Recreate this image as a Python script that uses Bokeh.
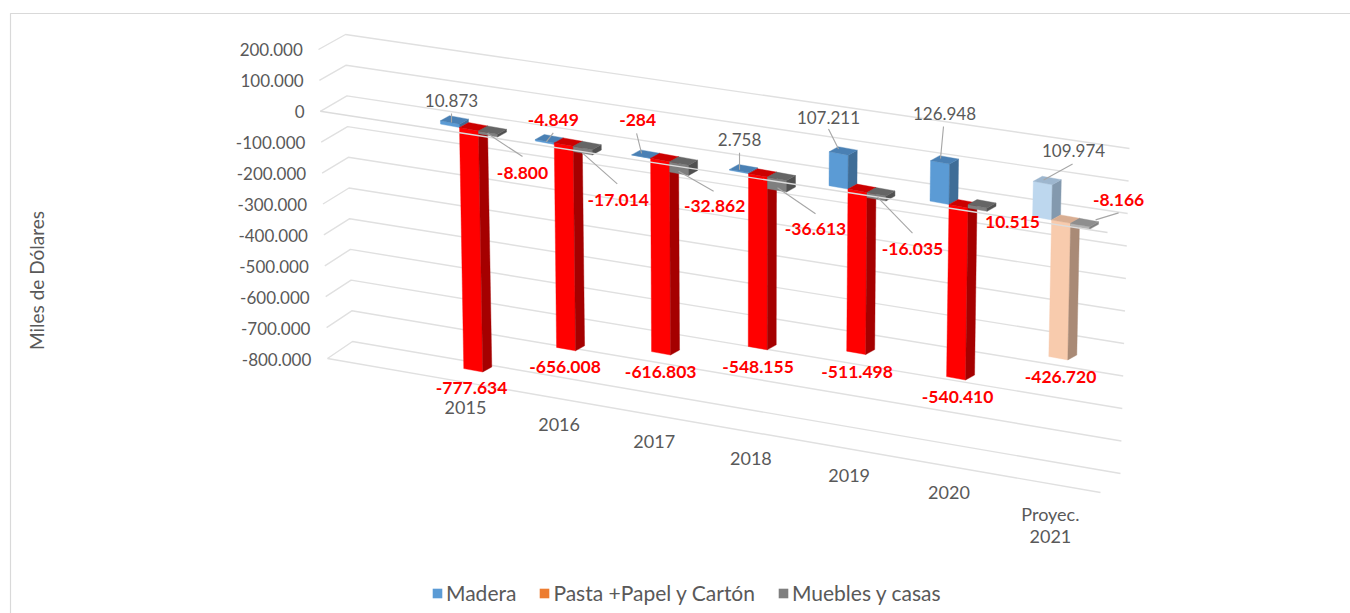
from bokeh.plotting import figure
from bokeh.models import Range1d, Legend, LegendItem, ColumnDataSource
from bokeh.core.properties import value
from bokeh.embed import file_html
from bokeh.resources import INLINE
import math

# ---------- data ----------
categories = ["2015", "2016", "2017", "2018", "2019", "2020", "Proyec.\n2021"]
madera = [10873, -4849, -284, 2758, 107211, 126948, 109974]
pasta = [-777634, -656008, -616803, -548155, -511498, -540410, -426720]
muebles = [-8800, -17014, -32862, -36613, -16035, 10515, -8166]
y_ticks = [200000, 100000, 0, -100000, -200000, -300000, -400000, -500000, -600000, -700000, -800000]
series_names = ["Madera", "Pasta +Papel y Cartón", "Muebles y casas"]
axis_title = "Miles de Dólares"

# ---------- styles ----------
FONT = "Lato"
GREY_TXT = "#595959"
GRID = "#E0E0E0"
LEADER = "#A6A6A6"
LEGEND_COLORS = ["#5B9BD5", "#ED7D31", "#7F7F7F"]
# (front, side, top) per series; solid years, then the lighter projected year
FACES = {
    "madera": ("#5B9BD5", "#3F6D97", "#4A80B4"),
    "pasta": ("#FF0000", "#A50000", "#CC0000"),
    "muebles": ("#7F7F7F", "#505050", "#656565"),
}
FACES_LIGHT = {
    "madera": ("#BDD7EE", "#8399AE", "#9DB6CE"),
    "pasta": ("#F8CBAD", "#A98A76", "#D9AE92"),
    "muebles": ("#B4B4B4", "#808080", "#8E8E8E"),
}

# ---------- projection of the 3-D scene onto the page ----------
BAR_W, DEPTH_X, DEPTH_Y, TILT = 19.0, 9.0, -5.0, 0.18
W, H = 1350, 613


def cat_x(i):
    return 459 + 94 * i + 0.78 * i * i


def cat_y(i):
    return 127 + 15.4 * i


def bar_pt(i, off, v, depth=0.0):
    t = v / 100000.0
    scale = 31 + 0.17 * i
    lean = 0.55 - 0.2 * i
    return (cat_x(i) + off - lean * t + depth * DEPTH_X,
            cat_y(i) + off * TILT - scale * t + depth * DEPTH_Y)


def back_left(t):
    return (346.4 - 0.7 * t, 95.4 - 30.7 * t)


def back_right(t):
    return (1127.2 + 0.9 * t, 213 - 32.5 * t)


def front_left(t):
    return (319.8 - 0.9 * t, 110.8 - 30.9 * t)


def front_right(t):
    return (1107 + 0.875 * t, 232 - 32.5 * t)


def fmt(v):
    return f"{v:,}".replace(",", ".")


p = figure(width=W, height=H, output_backend="svg", toolbar_location=None,
           x_range=Range1d(0, W), y_range=Range1d(H, 0),
           min_border=0, outline_line_color=None, background_fill_color="white",
           border_fill_color="white")
p.axis.visible = False
p.grid.visible = False

# chart frame
p.multi_line([[10, 10, W]], [[H, 13, 13]], line_color="#D9D9D9", line_width=1.2)

# walls and floor gridlines
gx, gy = [], []
for tick in y_ticks:
    t = tick / 100000.0
    pts = [front_left(t), back_left(t), back_right(t)]
    gx.append([a for a, _ in pts])
    gy.append([b for _, b in pts])
    if tick == min(y_ticks):
        a = [front_left(t), front_right(t)]
        gx.append([q for q, _ in a])
        gy.append([q for _, q in a])
p.multi_line(gx, gy, line_color=GRID, line_width=1.4)


# bars
def add_bar(faces, i, off, v, palette):
    front, side, top = palette
    hi, lo = max(v, 0), min(v, 0)
    a = [bar_pt(i, off, hi), bar_pt(i, off + BAR_W, hi), bar_pt(i, off + BAR_W, lo), bar_pt(i, off, lo)]
    b = [bar_pt(i, off + BAR_W, hi), bar_pt(i, off + BAR_W, hi, 1), bar_pt(i, off + BAR_W, lo, 1), bar_pt(i, off + BAR_W, lo)]
    c = [bar_pt(i, off, hi), bar_pt(i, off + BAR_W, hi), bar_pt(i, off + BAR_W, hi, 1), bar_pt(i, off, hi, 1)]
    for pts, col in ((a, front), (b, side), (c, top)):
        faces["x"].append([q[0] for q in pts])
        faces["y"].append([q[1] for q in pts])
        faces["c"].append(col)


faces = {"x": [], "y": [], "c": []}
for name, vals, off in (("madera", madera, -BAR_W), ("pasta", pasta, 0.0), ("muebles", muebles, BAR_W)):
    for i, v in enumerate(vals):
        pal = FACES_LIGHT[name] if i == len(vals) - 1 else FACES[name]
        add_bar(faces, i, off, v, pal)
p.patches("x", "y", fill_color="c", line_color="c", line_width=0.4, source=ColumnDataSource(faces))

# zero line of the front plane runs over the bars
z0, z1 = front_left(0), front_right(0)
p.line([z0[0], z1[0]], [z0[1], z1[1]], line_color="#DCDCDC", line_width=1.4)

# manual data-label layout, relative to each category's anchor
MADERA_LABEL = [(-8, -27), (-1, -23), (-13, -38), (-9, -34), (-19.5, -72), (-4.5, -91), (22, -69)]
MADERA_LEADER = [(-8, -14, -8, -5), (-1, -10, -8, -1), (-14, -25, -9, -5), (-9, -21, -9, -4),
                 (-19.5, -60, -9.5, -40), (-5.5, -78, -8.5, -46), (21, -56, -8, -40)]
MUEBLES_LABEL = [(63, 45), (64, 57), (64, 48), (67, 55), (64.5, 60), (63.5, 17), (67, -20)]
MUEBLES_LEADER = [(28, 6, 63, 29), (28, 10, 63, 41), (28, 13, 63, 33), (29, 14, 67, 40),
                  (29.5, 8, 64.5, 44), None, (44, 0, 67, -7)]

lx, ly = [], []
for leaders in (MADERA_LEADER, MUEBLES_LEADER):
    for i, l in enumerate(leaders):
        if l:
            lx.append([cat_x(i) + l[0], cat_x(i) + l[2]])
            ly.append([cat_y(i) + l[1], cat_y(i) + l[3]])
p.multi_line(lx, ly, line_color=LEADER, line_width=1.1)


def add_text(xs, ys, texts, color, size, style="normal", **kw):
    opts = dict(text_font=value(FONT), text_font_size=size, text_color=color, text_font_style=style,
                text_align="center", text_baseline="middle")
    opts.update(kw)
    p.text(xs, ys, text=texts, **opts)


SIZE = "17px"
BOLD_SIZE = "17.5px"
# Madera labels: grey when positive, bold red when negative
for i, v in enumerate(madera):
    neg = v < 0
    add_text([cat_x(i) + MADERA_LABEL[i][0]], [cat_y(i) + MADERA_LABEL[i][1]], [fmt(v)],
             "#FF0000" if neg else GREY_TXT, BOLD_SIZE if neg else SIZE, "bold" if neg else "normal")
# Pasta labels under their bars
bx, by = [], []
for i, v in enumerate(pasta):
    q = bar_pt(i, 7.8 + 0.65 * i, v)
    bx.append(q[0])
    by.append(q[1] + 18.5)
add_text(bx, by, [fmt(v) for v in pasta], "#FF0000", BOLD_SIZE, "bold")
# Muebles labels
add_text([cat_x(i) + MUEBLES_LABEL[i][0] for i in range(7)],
         [cat_y(i) + MUEBLES_LABEL[i][1] for i in range(7)],
         [fmt(v) for v in muebles], "#FF0000", BOLD_SIZE, "bold")

# value axis labels, following the slanted wall
add_text([304 - 0.85 * v / 100000.0 for v in y_ticks],
         [111 - 31 * v / 100000.0 for v in y_ticks],
         [fmt(v) for v in y_ticks], GREY_TXT, SIZE, text_align="right")

# category labels on the floor
add_text([cat_x(i) + 6 - 1.2 * i for i in range(7)],
         [cat_y(i) + 273 + 1.6 * i for i in range(7)],
         categories, GREY_TXT, "18px", text_baseline="top", text_line_height=1.0)

# axis title
add_text([36], [280], [axis_title], GREY_TXT, "19px", angle=math.pi / 2)

# legend (its own proxy renderers carry the swatch colours)
items = []
nan = float("nan")
for name, col in zip(series_names, LEGEND_COLORS):
    r = p.quad(left=[nan], right=[nan], top=[nan], bottom=[nan], fill_color=col, line_color=None)
    items.append(LegendItem(label=name, renderers=[r]))
legend = Legend(items=items, orientation="horizontal", location=(431, 8),
                background_fill_alpha=0, border_line_color=None, glyph_width=12, glyph_height=12,
                label_text_font=FONT, label_text_font_size="21px", label_text_color=GREY_TXT,
                spacing=22, padding=0, margin=0, label_standoff=3)
p.add_layout(legend, "center")

open("out.html", "w").write(file_html(p, INLINE))
